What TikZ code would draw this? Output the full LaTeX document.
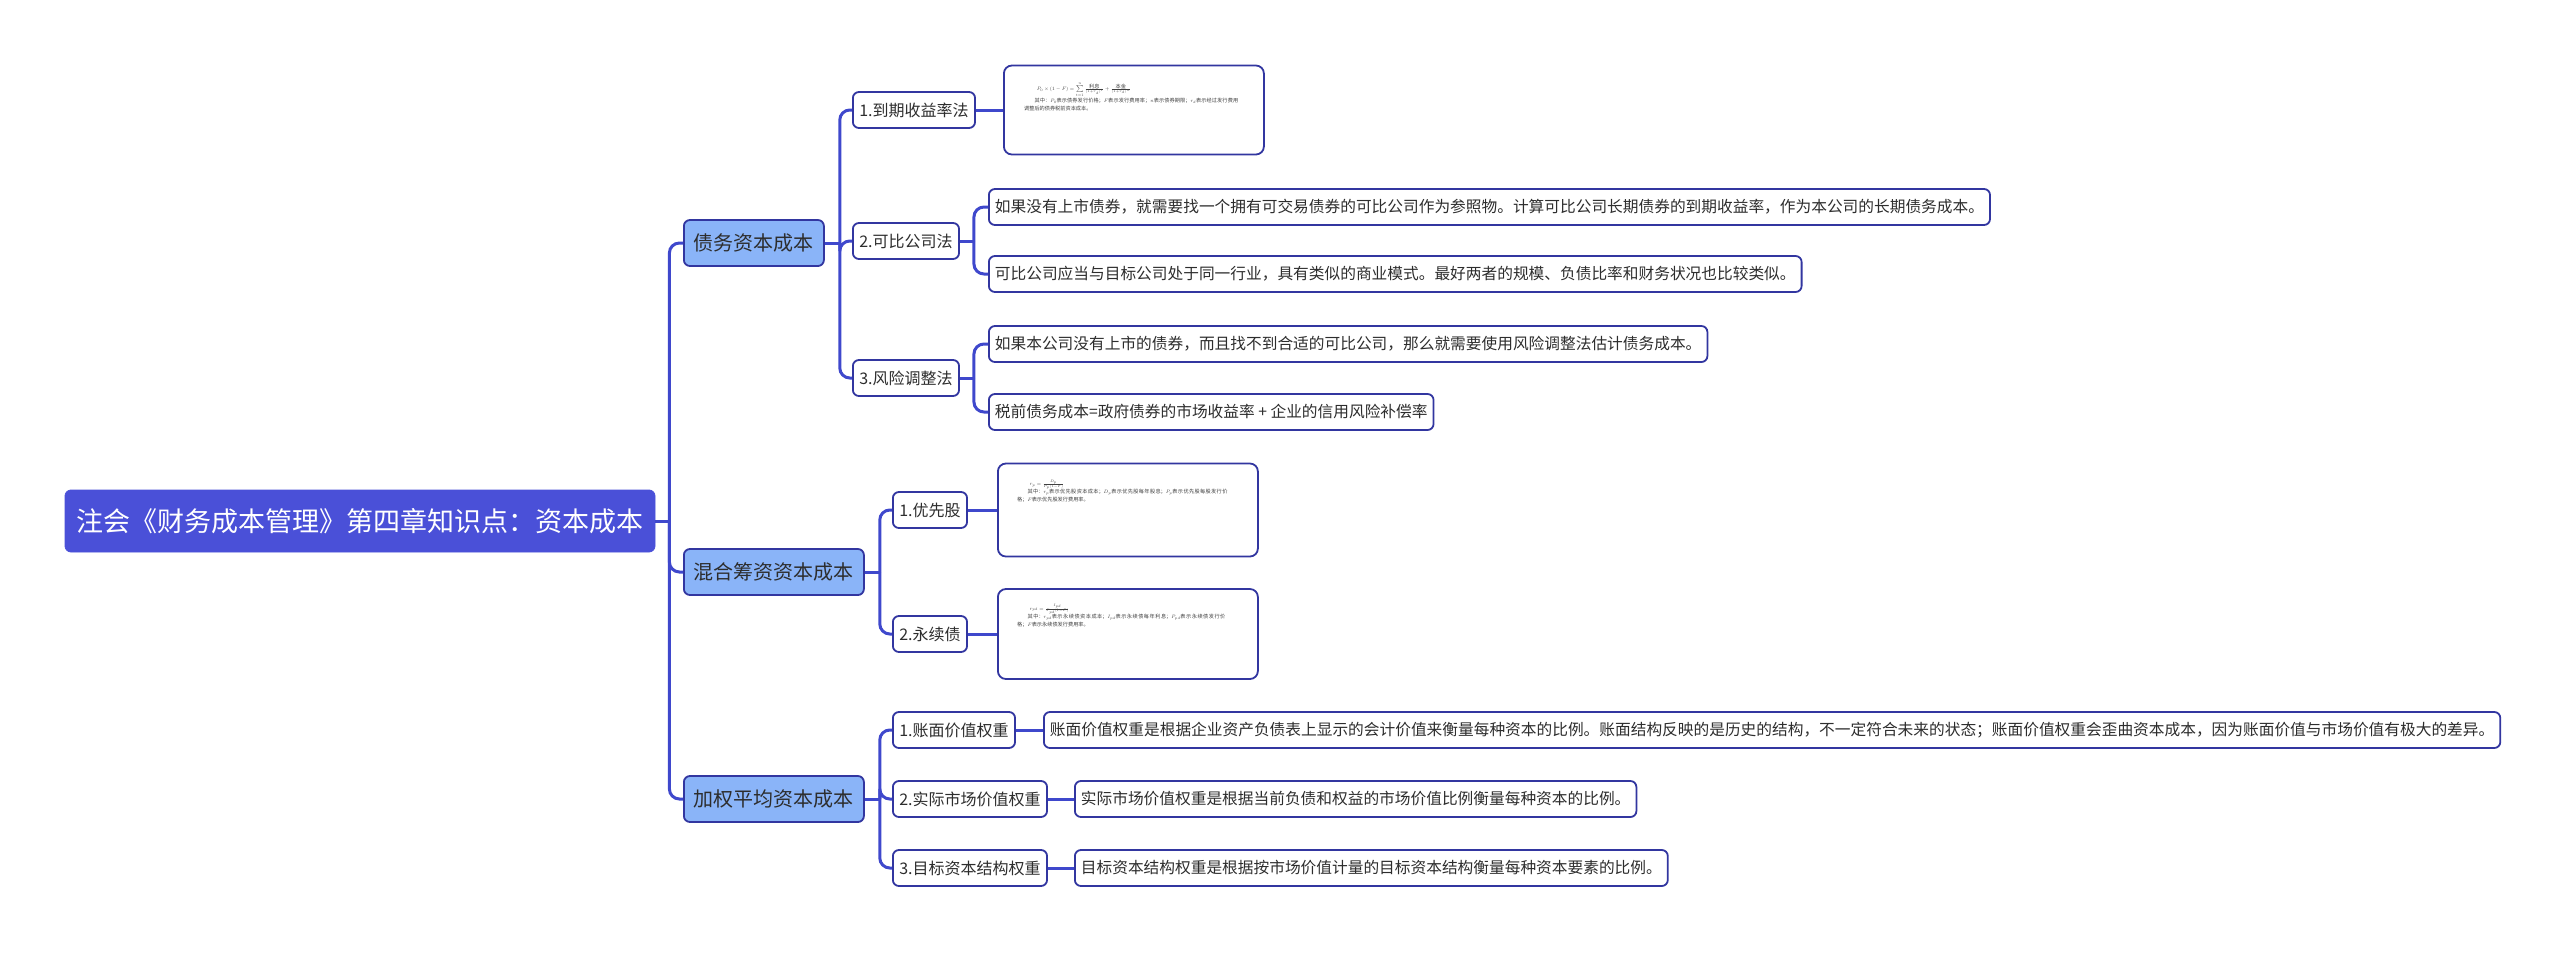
\documentclass[tikz,border=0pt]{standalone}
\usepackage{fontspec}
\setmainfont{Noto Sans CJK SC}
\XeTeXlinebreaklocale "zh"
\XeTeXlinebreakskip = 0pt plus 1pt
\usetikzlibrary{positioning}
\definecolor{rootblue}{RGB}{74,80,216}
\definecolor{mainblue}{RGB}{138,180,248}
\definecolor{linkblue}{RGB}{63,72,204}
\definecolor{edgeblue}{RGB}{50,54,160}
\definecolor{txtgray}{RGB}{45,45,45}

\begin{document}
\begin{tikzpicture}[x=0.5pt,y=-0.5pt]
        \tikzstyle{every node}+=[inner sep=0pt, text=txtgray]
        \tikzstyle{rootbox}=[draw=rootblue, fill=rootblue, rounded corners=3pt, minimum width=295pt, minimum height=31pt, text=white, font=\fontsize{13.5}{16}\selectfont]
        \tikzstyle{mainbox}=[draw=edgeblue, line width=0.9pt, fill=mainblue, rounded corners=3pt, minimum height=23pt, inner xsep=5pt, font=\fontsize{10}{12}\selectfont, anchor=west]
        \tikzstyle{subbox}=[draw=edgeblue, line width=0.9pt, fill=white, rounded corners=3pt, minimum height=18pt, inner xsep=3.2pt, font=\fontsize{8}{10}\selectfont, anchor=west]
        \tikzstyle{leafbox}=[draw=edgeblue, line width=0.9pt, fill=white, rounded corners=3pt, minimum height=18pt, inner xsep=3pt, font=\fontsize{7.85}{10}\selectfont, anchor=west]
        \tikzstyle{picbox}=[draw=edgeblue, line width=0.9pt, fill=white, rounded corners=4pt, minimum width=130pt, anchor=west]
        \tikzstyle{formtext}=[anchor=north west, scale=0.35, transform shape, text width=308pt, align=left, text=black!75, font=\fontsize{7.4}{10.5}\selectfont]
        \tikzstyle{link}=[draw=linkblue, line width=1.5pt, rounded corners=5pt]
        \useasboundingbox (0,0) rectangle (2560,953);

        \node[rootbox] (root) at (360,521) {注会《财务成本管理》第四章知识点：资本成本};
        \node[mainbox] (debt) at (683,243) {债务资本成本};
        \node[mainbox] (mix) at (683,572) {混合筹资资本成本};
        \node[mainbox] (wacc) at (683,799) {加权平均资本成本};

        \node[subbox] (ytm) at (852,110) {1.到期收益率法};
        \node[subbox] (comp) at (852,241) {2.可比公司法};
        \node[subbox] (risk) at (852,378) {3.风险调整法};
        \node[subbox] (pref) at (892,510) {1.优先股};
        \node[subbox] (perp) at (892,634) {2.永续债};
        \node[subbox] (book) at (892,730) {1.账面价值权重};
        \node[subbox] (mkt) at (892,799) {2.实际市场价值权重};
        \node[subbox] (tgt) at (892,868) {3.目标资本结构权重};

        \node[picbox, minimum height=44.5pt] (ytmpic) at (1003,110) {};
        \node[picbox, minimum height=46.5pt] (prefpic) at (997,510) {};
        \node[picbox, minimum height=45pt] (perppic) at (997,634) {};
        \node[formtext] (ytmeq) at (1024,82) {\hspace*{18pt}$P_0\times(1-F)=\sum\limits_{t=1}^{n}\frac{\mbox{利息}}{(1+r_d)^t}+\frac{\mbox{本金}}{(1+r_d)^n}$\\\hspace*{15pt}其中：$P_0$表示债券发行价格；$F$表示发行费用率；$n$表示债券期限；$r_d$表示经过发行费用调整后的债券税前资本成本。};
        \node[formtext] (prefeq) at (1017,480) {\hspace*{18pt}$r_p=\frac{D_p}{P_p(1-F)}$\\\hspace*{15pt}其中：$r_p$表示优先股资本成本；$D_p$表示优先股每年股息；$P_p$表示优先股每股发行价格；$F$表示优先股发行费用率。};
        \node[formtext] (perpeq) at (1017,604) {\hspace*{18pt}$r_{pd}=\frac{I_{pd}}{P_{pd}(1-F)}$\\\hspace*{15pt}其中：$r_{pd}$表示永续债资本成本；$I_{pd}$表示永续债每年利息；$P_{pd}$表示永续债发行价格；$F$表示永续债发行费用率。};

        \node[leafbox] (comp1) at (988,207) {如果没有上市债券，就需要找一个拥有可交易债券的可比公司作为参照物。计算可比公司长期债券的到期收益率，作为本公司的长期债务成本。};
        \node[leafbox] (comp2) at (988,274) {可比公司应当与目标公司处于同一行业，具有类似的商业模式。最好两者的规模、负债比率和财务状况也比较类似。};
        \node[leafbox] (risk1) at (988,344) {如果本公司没有上市的债券，而且找不到合适的可比公司，那么就需要使用风险调整法估计债务成本。};
        \node[leafbox] (risk2) at (988,412) {税前债务成本=政府债券的市场收益率 + 企业的信用风险补偿率};
        \node[leafbox] (book1) at (1043,730) {账面价值权重是根据企业资产负债表上显示的会计价值来衡量每种资本的比例。账面结构反映的是历史的结构，不一定符合未来的状态；账面价值权重会歪曲资本成本，因为账面价值与市场价值有极大的差异。};
        \node[leafbox] (mkt1) at (1074,799) {实际市场价值权重是根据当前负债和权益的市场价值比例衡量每种资本的比例。};
        \node[leafbox] (tgt1) at (1074,868) {目标资本结构权重是根据按市场价值计量的目标资本结构衡量每种资本要素的比例。};

        \path (root.east) ++(14,0) coordinate (rootj);
        \path (debt.east) ++(15,0) coordinate (debtj);
        \path (mix.east) ++(15,0) coordinate (mixj);
        \path (wacc.east) ++(15,0) coordinate (waccj);
        \path (comp.east) ++(14,0) coordinate (compj);
        \path (risk.east) ++(14,0) coordinate (riskj);
        \draw[link] (root.east) -- (rootj);
        \foreach \n in {debt,mix,wacc} \draw[link] (rootj) |- (\n.west);
        \draw[link] (debt.east) -- (debtj);
        \foreach \n in {ytm,comp,risk} \draw[link] (debtj) |- (\n.west);
        \draw[link] (mix.east) -- (mixj);
        \foreach \n in {pref,perp} \draw[link] (mixj) |- (\n.west);
        \draw[link] (wacc.east) -- (waccj);
        \foreach \n in {book,mkt,tgt} \draw[link] (waccj) |- (\n.west);
        \draw[link] (comp.east) -- (compj);
        \foreach \n in {comp1,comp2} \draw[link] (compj) |- (\n.west);
        \draw[link] (risk.east) -- (riskj);
        \foreach \n in {risk1,risk2} \draw[link] (riskj) |- (\n.west);
        \draw[link] (ytm.east) -- (ytmpic.west);
        \draw[link] (pref.east) -- (prefpic.west);
        \draw[link] (perp.east) -- (perppic.west);
        \draw[link] (book.east) -- (book1.west);
        \draw[link] (mkt.east) -- (mkt1.west);
        \draw[link] (tgt.east) -- (tgt1.west);
\end{tikzpicture}
\end{document}
